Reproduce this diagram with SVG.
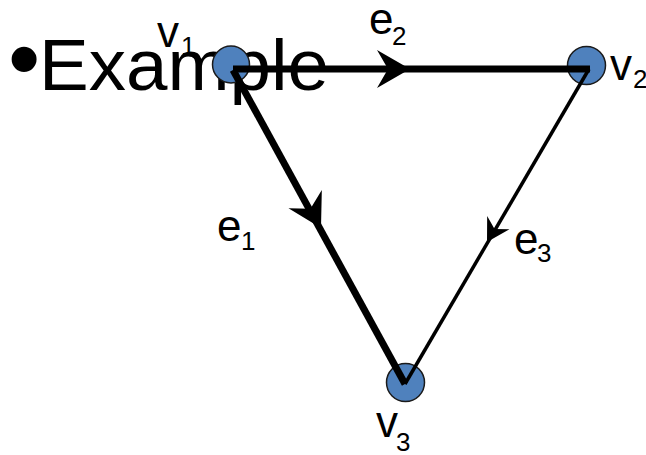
<svg xmlns="http://www.w3.org/2000/svg" width="646" height="455" viewBox="0 0 646 455">
<style>
text{font-family:"Liberation Sans",Arial,sans-serif;fill:#000}
.lbl{font-size:44px}
.sub{font-size:26px}
.node{fill:#4F81BD;stroke:#1a1a1a;stroke-width:1.5}
.edge{stroke:#000;fill:none;stroke-linecap:butt}
.thick{stroke-width:7}
.thin{stroke-width:3.5}
</style>
<defs>
<path id="arrowhead" d="M0,0 L-33,-19 L-22,0 L-33,19 Z" fill="#000"/>
</defs>
<rect width="646" height="455" fill="#fff"/>
<g id="title">
<text x="8" y="90" style="font-size:92px">•</text>
<text x="39" y="90" style="font-size:73px" textLength="290" lengthAdjust="spacingAndGlyphs">Example</text>
</g>
<g id="v1"><circle class="node" cx="231" cy="64.5" r="18.5"/></g>
<g id="v2"><circle class="node" cx="586.5" cy="65.5" r="19"/></g>
<g id="v3"><circle class="node" cx="405.5" cy="382.5" r="19"/></g>
<g id="connectors">
<line class="edge thick" x1="233" y1="69" x2="590" y2="69"/>
<line class="edge thick" x1="233" y1="70" x2="405" y2="384"/>
<line class="edge thin" x1="589" y1="69" x2="405" y2="384"/>
<use href="#arrowhead" transform="translate(410,69)"/>
<use href="#arrowhead" transform="translate(321,228) rotate(61.3)"/>
<use href="#arrowhead" transform="translate(487,242) rotate(120.3) scale(0.68)"/>
</g>
<g id="labels">
<text class="lbl" x="157" y="47">v<tspan class="sub" x="181" y="55">1</tspan></text>
<text class="lbl" x="369" y="34">e<tspan class="sub" x="392" y="45">2</tspan></text>
<text class="lbl" x="610" y="80">v<tspan class="sub" x="633" y="88">2</tspan></text>
<text class="lbl" x="217" y="241">e<tspan class="sub" x="241" y="250">1</tspan></text>
<text class="lbl" x="514" y="254">e<tspan class="sub" x="537" y="262">3</tspan></text>
<text class="lbl" x="376" y="437">v<tspan class="sub" x="396" y="451">3</tspan></text>
</g>
</svg>
